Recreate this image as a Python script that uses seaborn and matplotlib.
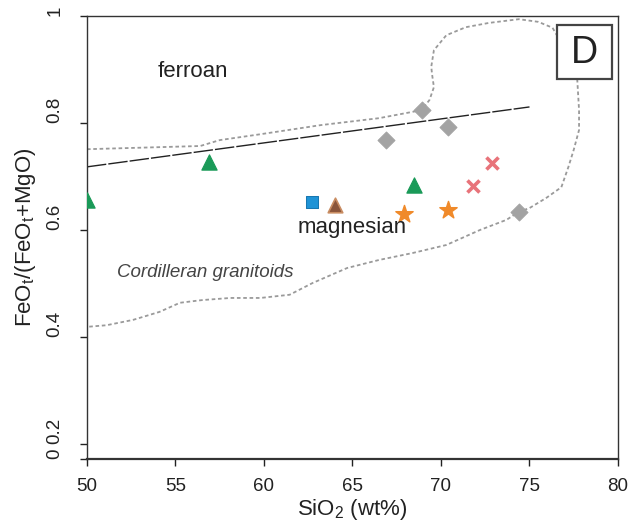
import matplotlib
matplotlib.use('Agg')
import matplotlib.pyplot as plt
import seaborn as sns
import pandas as pd
from matplotlib.patches import Rectangle

# Amostras
green_x = [50.0, 56.9, 68.5]
green_y = [0.656, 0.727, 0.684]
blue_x = [62.7]
blue_y = [0.652]
brown_x = [64.0]
brown_y = [0.647]
gray_x = [66.9, 68.9, 70.4, 74.4]
gray_y = [0.768, 0.824, 0.793, 0.634]
pink_x = [72.9, 71.8]
pink_y = [0.725, 0.682]
star_x = [67.9, 70.4]
star_y = [0.630, 0.637]

# Limite ferroan / magnesian
bound_x = [50, 75]
bound_y = [0.718, 0.830]

# Campo dos granitoides cordilheiranos
cord_x = [50.0, 56.4, 57.5, 59.8, 63.2, 66.5, 68.9, 69.35, 69.6, 69.5, 69.45, 69.6,
          70.3, 71.4, 72.7, 74.4, 75.5, 76.3, 77.2, 77.7, 77.8, 77.8, 77.5, 77.2,
          76.8, 75.95, 75.0, 74.4, 73.7, 72.2, 70.3, 68.4, 66.5, 64.7, 62.75, 61.45,
          59.8, 58.1, 56.5, 55.25, 54.1, 52.6, 51.1, 50.0]
cord_y = [0.751, 0.757, 0.768, 0.779, 0.796, 0.809, 0.824, 0.843, 0.867, 0.890, 0.905, 0.936,
          0.964, 0.979, 0.987, 0.994, 0.989, 0.978, 0.927, 0.880, 0.824, 0.787, 0.750, 0.718,
          0.680, 0.660, 0.641, 0.634, 0.619, 0.600, 0.572, 0.557, 0.544, 0.529, 0.501, 0.479,
          0.473, 0.473, 0.469, 0.464, 0.447, 0.432, 0.422, 0.419]

ytick_vals = [0.172, 0.2, 0.4, 0.6, 0.8, 1.0]
ytick_labels = ['0', '0.2', '0.4', '0.6', '0.8', '1']
xtick_vals = [50, 55, 60, 65, 70, 75, 80]

sns.set_style('ticks')
plt.rcParams['font.family'] = ['Liberation Sans', 'DejaVu Sans']
plt.rcParams['mathtext.fontset'] = 'custom'
plt.rcParams['mathtext.rm'] = 'Liberation Sans'

fig = plt.figure(figsize=(6.33, 5.29), dpi=100)
ax = fig.add_axes([0.1374, 0.1323, 0.8389, 0.8375])

sns.lineplot(x=cord_x, y=cord_y, sort=False, estimator=None, color='#9a9a9a', lw=1.3,
             linestyle=(0, (2, 1.5)), ax=ax, zorder=1)
sns.lineplot(x=bound_x, y=bound_y, estimator=None, color='#222222', lw=1.0,
             linestyle=(0, (14, 1.5)), ax=ax, zorder=2)

sns.scatterplot(x=gray_x, y=gray_y, marker='D', s=75, color='#a3a3a3', edgecolor='#a3a3a3', ax=ax, zorder=3)
sns.scatterplot(x=green_x, y=green_y, marker='^', s=120, color='#1a9a58', edgecolor='#1a9a58', ax=ax, zorder=3)
sns.scatterplot(x=blue_x, y=blue_y, marker='s', s=85, color='#1f93d6', edgecolor='#1877b0', ax=ax, zorder=3)
sns.scatterplot(x=brown_x, y=brown_y, marker='^', s=110, color='#8a553a', edgecolor='#c98d62', linewidth=1.2, ax=ax, zorder=3)
sns.scatterplot(x=pink_x, y=pink_y, marker='x', s=75, color='#e8737a', linewidth=2.6, ax=ax, zorder=3)
sns.scatterplot(x=star_x, y=star_y, marker='*', s=170, color='#f08a2a', edgecolor='#f08a2a', ax=ax, zorder=3)

ax.set_xlim(50, 80)
ax.set_ylim(0.172, 1.0)
ax.set_xticks(xtick_vals)
ax.set_yticks(ytick_vals)
ax.set_yticklabels(ytick_labels, rotation=90, va='bottom')

ax.tick_params(axis='x', direction='out', length=5, width=1, pad=9, labelsize=13.5, colors='#222222')
ax.tick_params(axis='y', direction='out', length=5, width=1, pad=12, labelsize=13.5, colors='#222222')
for s in ax.spines.values():
    s.set_color('#333333')
    s.set_linewidth(1.0)
ax.spines['bottom'].set_linewidth(1.6)

ax.set_xlabel('SiO$_\\mathregular{2}$ (wt%)', fontsize=16, labelpad=1, color='#222222')
ax.set_ylabel('FeO$_\\mathregular{t}$/(FeO$_\\mathregular{t}$+MgO)', fontsize=16, labelpad=6, color='#222222')

ax.text(56.0, 0.897, 'ferroan', fontsize=16, ha='center', va='center', color='#222222')
ax.text(65.0, 0.605, 'magnesian', fontsize=16, ha='center', va='center', color='#222222')
ax.text(56.7, 0.52, 'Cordilleran granitoids', fontsize=13.5, style='italic',
        ha='center', va='center', color='#444444')

ax.add_patch(Rectangle((0.885, 0.858), 0.1036, 0.122, transform=ax.transAxes,
                       facecolor='white', edgecolor='#444444', lw=1.6, zorder=5))
ax.text(0.937, 0.917, 'D', transform=ax.transAxes, fontsize=27, ha='center', va='center',
        color='#222222', zorder=6)

fig.savefig('out.png', dpi=100)
